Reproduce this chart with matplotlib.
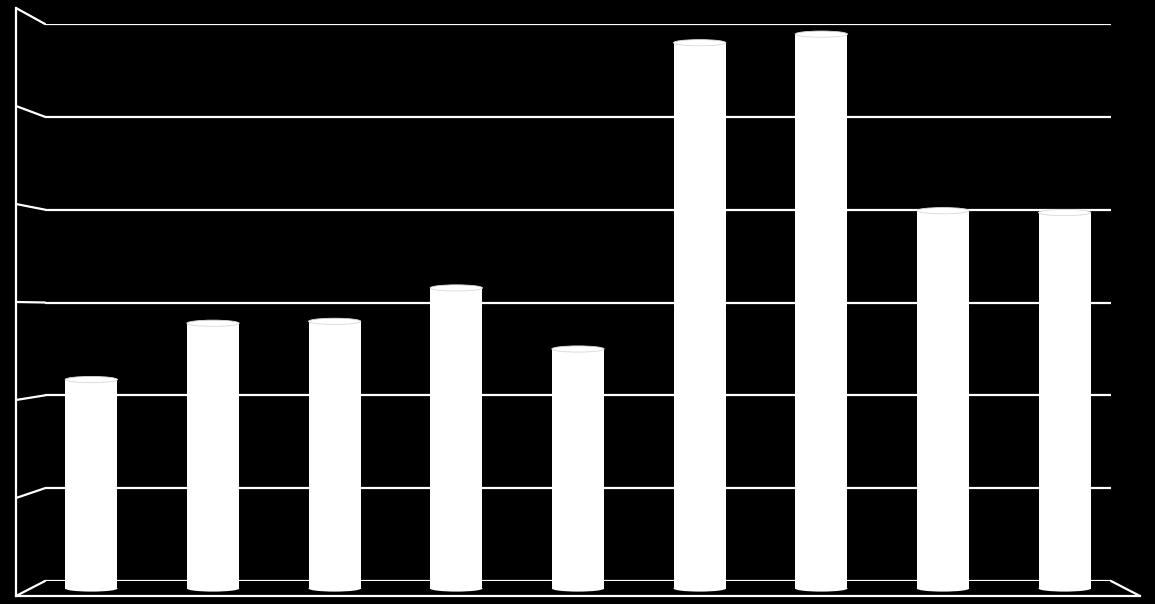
import matplotlib
matplotlib.use("Agg")
import matplotlib.pyplot as plt
from matplotlib.patches import ConnectionPatch, Ellipse
import numpy as np

# bar values (grid units, gridlines at 0..6)
categories = list(range(9))
values = [2.19, 2.78, 2.80, 3.15, 2.51, 5.72, 5.81, 3.96, 3.94]
grid_levels = [0, 1, 2, 3, 4, 5, 6]

W, H = 1155, 604


def px_axes(fig, left, right, top, bottom):
    # axes placed by pixel edges (y measured from the top)
    ax = fig.add_axes([left / W, (H - bottom) / H, (right - left) / W, (bottom - top) / H])
    ax.set_xlim(-0.5, len(categories) - 0.5)
    ax.set_ylim(0, 6)
    ax.set_facecolor("none")
    ax.axis("off")
    return ax


def main():
    fig = plt.figure(figsize=(W / 100, H / 100), dpi=100, facecolor="black")

    # back wall, mid depth (bars) and front edge of the 3d box
    ax_back = px_axes(fig, 45, 1111, 24, 581)
    ax_mid = px_axes(fig, 30.5, 1125.5, 16, 588.5)
    ax_front = px_axes(fig, 16, 1140, 8, 596)

    lw = 1.6
    xmin, xmax = -0.5, len(categories) - 0.5

    # gridlines on the back wall
    for g in grid_levels:
        ax_back.plot([xmin, xmax], [g, g], color="white", lw=lw, solid_capstyle="butt")

    # left wall: front vertical edge and slanted ticks
    ax_front.plot([xmin, xmin], [0, 6], color="white", lw=lw, clip_on=False)
    for g in grid_levels:
        con = ConnectionPatch((xmin, g), (xmin, g), coordsA=ax_front.transData,
                              coordsB=ax_back.transData, color="white", lw=lw)
        ax_front.add_artist(con)

    # floor: front edge and right slant
    ax_front.plot([xmin, xmax], [0, 0], color="white", lw=lw, clip_on=False)
    con = ConnectionPatch((xmax, 0), (xmax, 0), coordsA=ax_front.transData,
                          coordsB=ax_back.transData, color="white", lw=lw)
    ax_front.add_artist(con)

    # cylinder bars
    bw = 0.43
    eh = 0.065
    ax_mid.bar(categories, values, width=bw, color="white", edgecolor="none")
    for x, v in zip(categories, values):
        ax_mid.add_patch(Ellipse((x, v), bw, eh, facecolor="white", edgecolor="#d8d8d8", lw=0.6))
        ax_mid.add_patch(Ellipse((x, 0), bw, eh, facecolor="white", edgecolor="none", clip_on=False))

    fig.savefig("out.png", dpi=100, facecolor="black")


if __name__ == "__main__":
    main()
